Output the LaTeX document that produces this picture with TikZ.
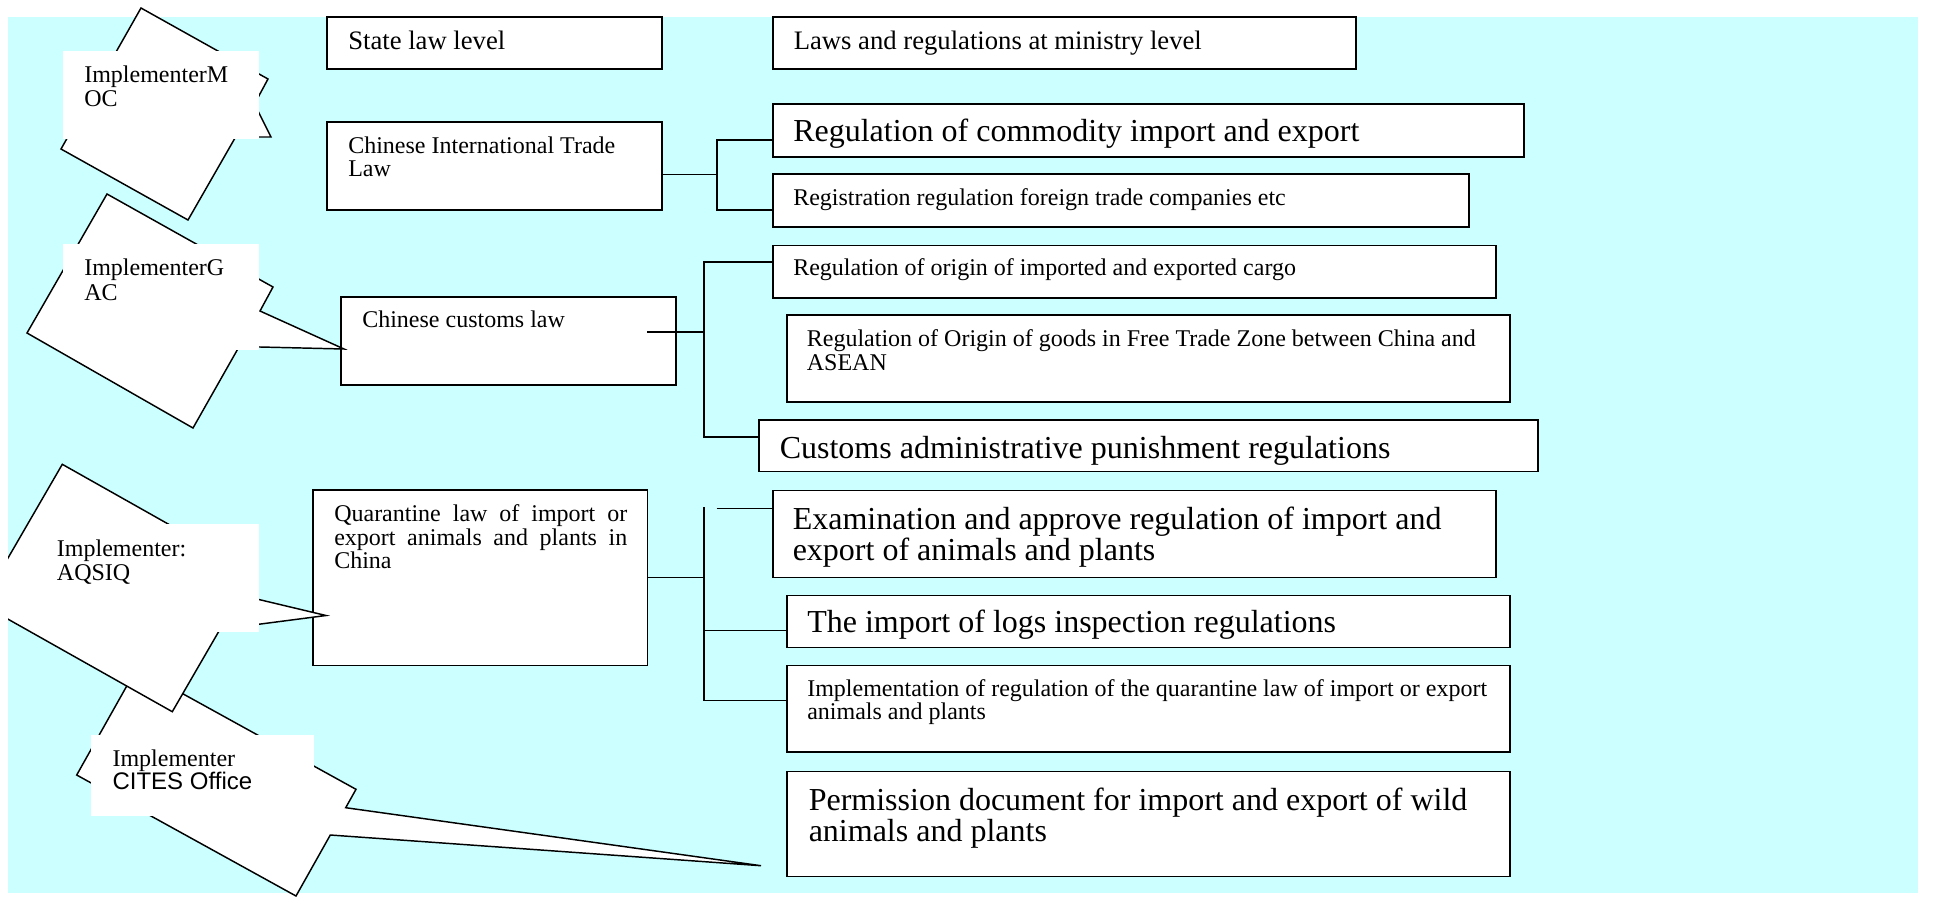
\documentclass[tikz,border=0pt]{standalone}
\usepackage{fontspec}
\setmainfont{Liberation Serif}
\newfontfamily\arialf{Liberation Sans}
\usetikzlibrary{fit}
\definecolor{slidecyan}{RGB}{204,255,255}
\newcommand\fsz[2]{\fontsize{#1pt}{#2pt}\selectfont}
\newcommand\vlines[2]{\vtop{\baselineskip=#1pt\lineskiplimit=-100pt\lineskip=0pt #2}}
\begin{document}
\begin{tikzpicture}[x=0.75pt,y=-0.75pt,
  box/.style={draw=black,line width=1.1pt,fill=white,inner sep=0pt},
  tbox/.style={fill=white,inner sep=0pt},
  lbl/.style={anchor=base west,inner sep=0pt,text=black,font=\fsz{18}{17.5}},
  lblm/.style={lbl,font=\fsz{20}{20}},
  lblb/.style={lbl,font=\fsz{24}{23.25}},
  conn/.style={line width=1.1pt},
  callout/.style={draw=black,line width=1.1pt,fill=white,line join=miter}]
\useasboundingbox (0,0) rectangle (1937,896);
\fill[white] (0,0) rectangle (1937,896);
\fill[slidecyan] (8,17) rectangle (1918,893);

% boxes
\node[box, fit={(327,17) (662,69)}] (state) {};
\node[box, fit={(773,17) (1356,69)}] (laws) {};
\node[box, fit={(327,122) (662,210)}] (trade) {};
\node[box, fit={(773,104) (1524,157)}] (comm) {};
\node[box, fit={(773,174) (1469,227)}] (reg) {};
\node[box, fit={(341,297) (676,385)}] (customs) {};
\node[box, fit={(773,245.5) (1496,298)}] (origin) {};
\node[box, fit={(787,315) (1510,402)}] (asean) {};
\node[box, fit={(759,420) (1538,471.5)}] (admin) {};
\node[box, fit={(313,490) (647.7,665.7)}] (quar) {};
\node[box, fit={(773,490.7) (1496,577.7)}] (exam) {};
\node[box, fit={(787,595.7) (1510,647.7)}] (logs) {};
\node[box, fit={(787,665.7) (1510,752)}] (impl) {};
\node[box, fit={(787,771.7) (1510,876.7)}] (perm) {};

% texts
\node[lblm] (stateT) at (348,49.5) {State law level};
\node[lblm] (lawsT) at (793.5,49.5) {Laws and regulations at ministry level};
\node[lbl] (tradeT) at (348,153) {\vlines{17.5}{\hbox{Chinese International Trade}\hbox{Law}}};
\node[lblb] (commT) at (793,141) {Regulation of commodity import and export};
\node[lbl] (regT) at (793,205.5) {Registration regulation foreign trade companies etc};
\node[lbl] (customsT) at (362,327) {Chinese customs law};
\node[lbl] (originT) at (793,275.3) {Regulation of origin of imported and exported cargo};
\node[lbl] (aseanT) at (806.6,346) {\vlines{18}{\hbox{Regulation of Origin of goods in Free Trade Zone between China and}\hbox{ASEAN}}};
\node[lblb] (adminT) at (779.5,458.3) {Customs administrative punishment regulations};
\node[lbl] (quarT) at (334,521.7) {\vlines{17.5}{\hbox to 219.75pt{Quarantine law of import or}\hbox to 219.75pt{export animals and plants in}\hbox{China}}};
\node[lblb] (examT) at (792.5,529.3) {\vlines{23.25}{\hbox{Examination and approve regulation of import and}\hbox{export of animals and plants}}};
\node[lblb] (logsT) at (807,632.7) {The import of logs inspection regulations};
\node[lbl] (implT) at (807,696) {\vlines{17.5}{\hbox{Implementation of regulation of the quarantine law of import or export}\hbox{animals and plants}}};
\node[lblb] (permT) at (808.5,810) {\vlines{23.25}{\hbox{Permission document for import and export of wild}\hbox{animals and plants}}};

% connectors: trade law
\coordinate (tJ) at (717,174.3);
\coordinate (tA) at (717,140);
\coordinate (tB) at (717,210);
\draw[conn] (tJ -| trade.east) -- (tJ);
\draw[conn] (comm.west |- tA) -- (tA) -- (tB) -- (reg.west |- tB);
% customs law
\coordinate (cS) at (647,332);
\coordinate (cJ) at (704,332);
\coordinate (cA) at (704,262);
\coordinate (cB) at (704,437);
\draw[conn] (cS) -- (cJ);
\draw[conn] (origin.west |- cA) -- (cA) -- (cB) -- (admin.west |- cB);
% quarantine law
\coordinate (qJ) at (704,577.7);
\coordinate (qA) at (704,507.3);
\coordinate (qB) at (704,700.7);
\coordinate (qL) at (704,630.7);
\coordinate (qE) at (716.7,508.3);
\draw[conn] (quar.east |- qJ) -- (qJ);
\draw[conn] (qA) -- (qB) -- (impl.west |- qB);
\draw[conn] (qL) -- (logs.west |- qL);
\draw[conn] (qE) -- (exam.west |- qE);

% callouts
\begin{scope}
\clip (8,0) rectangle (1937,896);
% MOC
\draw[callout] (141,8) -- (268,79) -- (254.5,104) -- (271,137) -- (235.6,137) -- (188,220) -- (61,149) -- cycle;
\node[tbox, fit={(63,51) (259,139)}] (mocB) {};
\node[lbl] (mocT) at (84,82) {\vlines{18.5}{\hbox{ImplementerM}\hbox{OC}}};
% GAC
\draw[callout] (107,194) -- (273,287) -- (260,311) -- (344,349) -- (239.2,346.5) -- (193,428) -- (27,333) -- cycle;
\node[tbox, fit={(63,244) (259,350)}] (gacB) {};
\node[lbl] (gacT) at (84,275.5) {\vlines{18.5}{\hbox{ImplementerG}\hbox{AC}}};
% CITES
\draw[callout] (136.7,668.3) -- (356,789.3) -- (345.7,807.7) -- (761,865.7) -- (330.3,835) -- (296,896) -- (76.7,775) -- cycle;
\node[tbox, fit={(91,735) (314.3,815.7)}] (citesB) {};
\node[lbl] (citesT) at (112.3,766) {\vlines{17.5}{\hbox{Implementer}\hbox{\arialf\fontsize{18pt}{18pt}\selectfont CITES Office}}};
% AQSIQ
\draw[callout] (62.3,464.3) -- (253.3,572) -- (240,595) -- (326,615.5) -- (220,629.3) -- (172.3,711.7) -- (-18.7,604.1) -- cycle;
\node[tbox, fit={(36,524) (259,632)}] (aqB) {};
\node[lbl] (aqT) at (56.7,556.7) {\vlines{17.5}{\hbox{Implementer:}\hbox{AQSIQ}}};
\end{scope}
\end{tikzpicture}
\end{document}
